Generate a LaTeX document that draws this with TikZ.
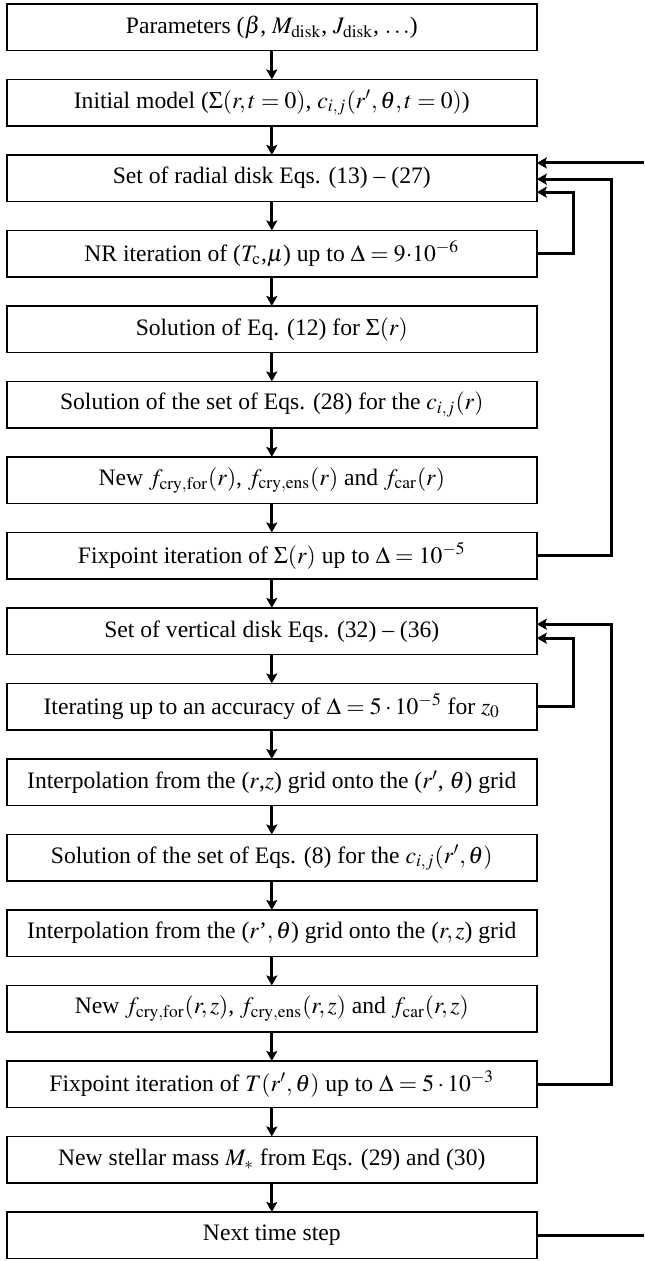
\documentclass[tikz,border=0pt]{standalone}
\usepackage{mathptmx}
\usepackage[no-math]{fontspec}
\setmainfont{Liberation Serif}
\usetikzlibrary{positioning,arrows.meta}
\tikzstyle{box} = [draw, line width=0.75pt, minimum width=265pt, minimum height=23.25pt, inner sep=0pt, outer sep=0pt, font=\fontsize{11.8pt}{13pt}\selectfont]
\tikzstyle{arrow} = [line width=1.5pt,-{Stealth[length=5pt,width=5.5pt,inset=1pt]}]

\begin{document}
\begin{tikzpicture}[node distance=14.5pt]
\useasboundingbox (0,0) rectangle (322pt,-630.5pt);
\node[box] (param) at (135.9pt,-13.6pt) {Parameters ($\beta$, $M_{\rm disk}$, $J_{\rm disk}$, $\ldots$)};
\node[box, below=of param] (init) {Initial model ($\Sigma(r,t=0)$, $c_{i,j}(r',\theta,t=0)$)};
\node[box, below=of init] (radial) {Set of radial disk Eqs. (13) -- (27)};
\node[box, below=of radial] (nr) {NR iteration of ($T_{\rm c}$,$\mu$) up to $\Delta = 9{\cdot}10^{-6}$};
\node[box, below=of nr] (sigma) {Solution of Eq. (12) for $\Sigma(r)$};
\node[box, below=of sigma] (cij) {Solution of the set of Eqs. (28) for the $c_{i,j}(r)$};
\node[box, below=of cij] (fnew) {New $f_{\rm cry,for}(r)$, $f_{\rm cry,ens}(r)$ and $f_{\rm car}(r)$};
\node[box, below=of fnew] (fixsigma) {Fixpoint iteration of $\Sigma(r)$ up to $\Delta = 10^{-5}$};
\node[box, below=of fixsigma] (vertical) {Set of vertical disk Eqs. (32) -- (36)};
\node[box, below=of vertical] (zzero) {Iterating up to an accuracy of $\Delta = 5\cdot10^{-5}$ for $z_0$};
\node[box, below=of zzero] (interpA) {Interpolation from the ($r$,$z$) grid onto the ($r'$, $\theta$) grid};
\node[box, below=of interpA] (cijtheta) {Solution of the set of Eqs. (8) for the $c_{i,j}(r',\theta)$};
\node[box, below=of cijtheta] (interpB) {Interpolation from the ($r$'$,\theta$) grid onto the ($r,z$) grid};
\node[box, below=of interpB] (fnewrz) {New $f_{\rm cry,for}(r,z)$, $f_{\rm cry,ens}(r,z)$ and $f_{\rm car}(r,z)$};
\node[box, below=of fnewrz] (fixT) {Fixpoint iteration of $T(r',\theta)$ up to $\Delta = 5\cdot10^{-3}$};
\node[box, below=of fixT] (mstar) {New stellar mass $M_*$ from Eqs. (29) and (30)};
\node[box, below=of mstar] (next) {Next time step};

% straight down
\foreach \a/\b in {param/init, init/radial, radial/nr, nr/sigma, sigma/cij, cij/fnew, fnew/fixsigma, fixsigma/vertical, vertical/zzero, zzero/interpA, interpA/cijtheta, cijtheta/interpB, interpB/fnewrz, fnewrz/fixT, fixT/mstar, mstar/next}
  \draw[arrow] (\a.south) -- (\b.north);

% loops
\coordinate (edgein) at (322pt,0 |- radial.north);
\coordinate (edgeout) at (322pt,0 |- next);
\draw[arrow] ([yshift=-4pt]edgein) -- ([yshift=-4pt]radial.north east);
\draw[arrow] (fixsigma.east) -- ++(37.5pt,0) |- ([yshift=-0.5pt]radial.east);
\draw[arrow] (nr.east) -- ++(18.5pt,0) |- ([yshift=-7pt]radial.east);
\draw[arrow] (fixT.east) -- ++(37.5pt,0) |- ([yshift=3.5pt]vertical.east);
\draw[arrow] (zzero.east) -- ++(18.5pt,0) |- ([yshift=-3.5pt]vertical.east);
\draw[line width=1.5pt] (next.east) -- (edgeout);
\end{tikzpicture}
\end{document}
